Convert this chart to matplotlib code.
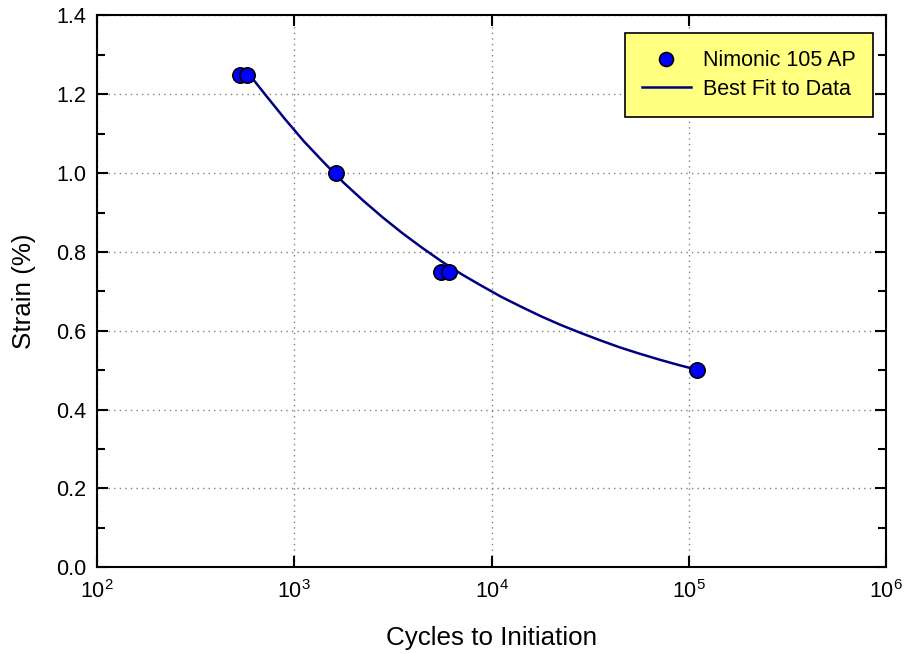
import matplotlib
matplotlib.use("Agg")
import matplotlib.pyplot as plt
from matplotlib.ticker import LogLocator, MultipleLocator, NullLocator, FormatStrFormatter

plt.rcParams['font.family'] = ['Liberation Sans', 'DejaVu Sans']
plt.rcParams['mathtext.fontset'] = 'custom'
plt.rcParams['mathtext.rm'] = 'Liberation Sans'

# test data (cycles to initiation, strain in %)
cycles = [531, 577, 1630, 5550, 6100, 110000]
strain = [1.25, 1.25, 1.0, 0.75, 0.75, 0.50]

# best-fit curve
fit_cycles = [577, 708, 891, 1122, 1413, 1778, 2239, 2818, 3548, 4467,
              5623, 7079, 8913, 11220, 14130, 17780, 22390, 28180, 35480,
              44670, 56230, 70790, 89130, 110200]
fit_strain = [1.257, 1.201, 1.139, 1.080, 1.027, 0.976, 0.930, 0.887, 0.847,
              0.810, 0.775, 0.743, 0.714, 0.686, 0.661, 0.637, 0.615, 0.595,
              0.576, 0.558, 0.542, 0.527, 0.513, 0.501]

fig = plt.figure(figsize=(9.06, 6.54), dpi=100)
ax = fig.add_axes([0.1071, 0.1326, 0.8709, 0.8437])

ax.plot(fit_cycles, fit_strain, color='#000080', lw=1.8,
        label='Best Fit to Data', zorder=3)
ax.plot(cycles, strain, 'o', color='#0000ff', markeredgecolor='black',
        markeredgewidth=1.2, markersize=11, label='Nimonic 105 AP', zorder=4)

ax.set_xscale('log')
ax.set_xlim(1e2, 1e6)
ax.set_ylim(0, 1.4)
ax.xaxis.set_major_locator(LogLocator(base=10, numticks=10))
ax.xaxis.set_minor_locator(NullLocator())
ax.yaxis.set_major_locator(MultipleLocator(0.2))
ax.yaxis.set_minor_locator(MultipleLocator(0.1))
ax.yaxis.set_major_formatter(FormatStrFormatter('%.1f'))

ax.grid(True, which='major', color='gray', linestyle=(0, (1, 3)), lw=1)

for side in ax.spines.values():
    side.set_linewidth(1.5)
ax.tick_params(which='both', direction='in', top=True, right=True,
               labelsize=15.5, width=1.5)
ax.tick_params(which='major', length=8)
ax.tick_params(which='minor', length=5.5)
ax.tick_params(axis='x', pad=9)
ax.tick_params(axis='y', pad=8)

ax.set_xlabel('Cycles to Initiation', fontsize=18.7, labelpad=17)
ax.set_ylabel('Strain (%)', fontsize=18.7, labelpad=14)

handles, labels = ax.get_legend_handles_labels()
leg = ax.legend(handles[::-1], labels[::-1], loc='upper right',
                bbox_to_anchor=(0.9835, 0.968), borderaxespad=0,
                fontsize=15.5, fancybox=False, framealpha=1,
                facecolor='#ffff80', edgecolor='black',
                borderpad=0.8, labelspacing=0.35, handlelength=2.3,
                handletextpad=0.55)
leg.get_frame().set_linewidth(1.2)
leg.legend_handles[0].set_markersize(10)

fig.savefig('out.png', dpi=100)
